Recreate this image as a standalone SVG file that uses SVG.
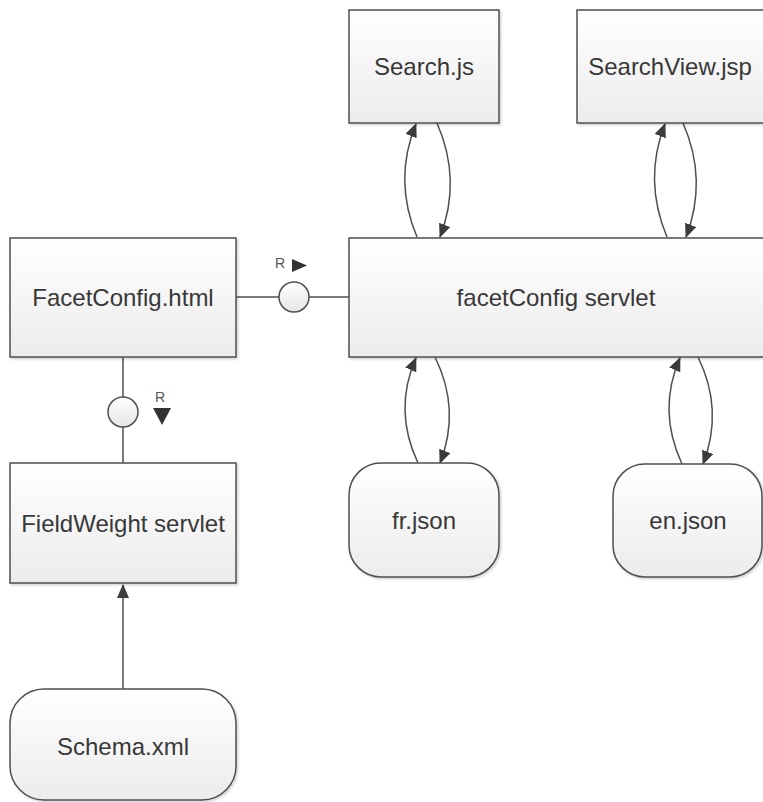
<svg xmlns="http://www.w3.org/2000/svg" width="763" height="802" viewBox="0 0 763 802">
<style>
.box{fill:url(#g);stroke:#4f4f4f;stroke-width:1.5;filter:url(#s)}
.t{font-family:"Liberation Sans",Arial,sans-serif;font-size:24px;fill:#383838;text-anchor:middle;dominant-baseline:central}
.r{font-family:"Liberation Sans",Arial,sans-serif;font-size:14px;fill:#555;text-anchor:middle}
.c{fill:none;stroke:#4f4f4f;stroke-width:1.5}
</style>
<defs>
<linearGradient id="g" x1="0" y1="0" x2="0" y2="1"><stop offset="0" stop-color="#ffffff"/><stop offset="1" stop-color="#ececec"/></linearGradient>
<linearGradient id="gc" x1="0" y1="0" x2="0" y2="1"><stop offset="0" stop-color="#ffffff"/><stop offset="1" stop-color="#e6e6e6"/></linearGradient>
<filter id="s" x="-5%" y="-5%" width="115%" height="115%"><feDropShadow dx="1.5" dy="1.5" stdDeviation="1.2" flood-color="#000" flood-opacity="0.18"/></filter>
<marker id="a" markerUnits="userSpaceOnUse" markerWidth="14" markerHeight="12" refX="13" refY="6" orient="auto"><path d="M0,0 L14,6 L0,12 z" fill="#3c3c3c"/></marker>
</defs>
<g id="connectors">
<line class="c" x1="236" y1="297" x2="349" y2="297"/>
<line class="c" x1="123" y1="357" x2="123" y2="463"/>
<line class="c" x1="123" y1="689" x2="123" y2="585" marker-end="url(#a)"/>
<path class="c" d="M417,237 Q393,180 416,124" marker-end="url(#a)"/>
<path class="c" d="M437,123 Q462,180 440,237" marker-end="url(#a)"/>
<path class="c" d="M667,237 Q643,180 665,124" marker-end="url(#a)"/>
<path class="c" d="M683,123 Q708,180 686,237" marker-end="url(#a)"/>
<path class="c" d="M418,463 Q393,410 416,358" marker-end="url(#a)"/>
<path class="c" d="M435,357 Q461,410 440,463" marker-end="url(#a)"/>
<path class="c" d="M682,464 Q657,410 680,358" marker-end="url(#a)"/>
<path class="c" d="M698,357 Q724,410 703,464" marker-end="url(#a)"/>
</g>
<g id="iface1">
<circle cx="294" cy="297" r="15" fill="url(#gc)" stroke="#4f4f4f" stroke-width="1.5"/>
<text class="r" x="280" y="268">R</text>
<path d="M292,259 L307,265.5 L292,272 z" fill="#333"/>
</g>
<g id="iface2">
<circle cx="123" cy="412" r="15" fill="url(#gc)" stroke="#4f4f4f" stroke-width="1.5"/>
<text class="r" x="160" y="402">R</text>
<path d="M153,408 L171,408 L162,425 z" fill="#333"/>
</g>
<g id="facetconfig-html">
<rect class="box" x="10" y="238" width="226" height="119"/>
<text class="t" x="123" y="297">FacetConfig.html</text>
</g>
<g id="fieldweight">
<rect class="box" x="10" y="463" width="226" height="120"/>
<text class="t" x="123" y="523">FieldWeight servlet</text>
</g>
<g id="schema">
<rect class="box" x="10" y="689" width="226" height="111" rx="34" ry="34"/>
<text class="t" x="123" y="746">Schema.xml</text>
</g>
<g id="search-js">
<rect class="box" x="349" y="10" width="150" height="113"/>
<text class="t" x="424" y="66">Search.js</text>
</g>
<g id="searchview">
<rect class="box" x="577" y="10" width="190" height="113"/>
<text class="t" x="670" y="66">SearchView.jsp</text>
</g>
<g id="facetconfig-servlet">
<rect class="box" x="349" y="238" width="420" height="119"/>
<text class="t" x="556" y="297">facetConfig servlet</text>
</g>
<g id="fr-json">
<rect class="box" x="349" y="463" width="150" height="114" rx="32" ry="32"/>
<text class="t" x="424" y="520">fr.json</text>
</g>
<g id="en-json">
<rect class="box" x="613" y="464" width="149" height="113" rx="32" ry="32"/>
<text class="t" x="688" y="520">en.json</text>
</g>
</svg>
